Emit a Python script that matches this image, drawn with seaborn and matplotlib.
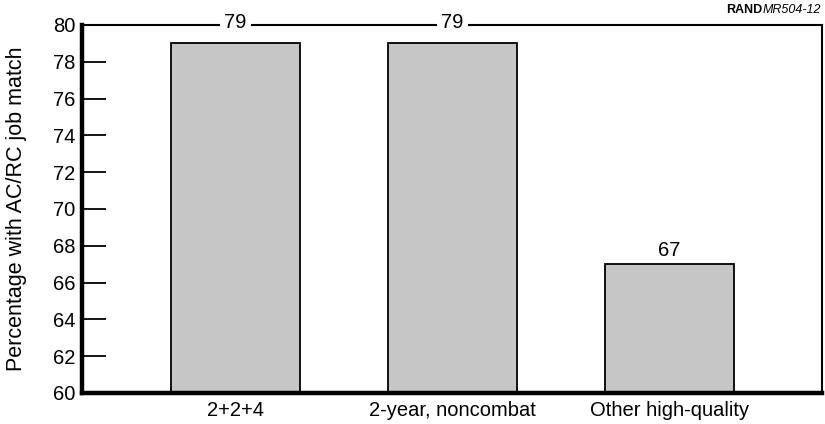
import pandas as pd
import matplotlib
matplotlib.use('Agg')
import matplotlib.pyplot as plt
import seaborn as sns

# данные с картинки
categories = ['2+2+4', '2-year, noncombat', 'Other high-quality']
values = [79, 79, 67]

sns.set_theme(style='white')
plt.rcParams['font.family'] = ['Liberation Sans', 'DejaVu Sans']
plt.rcParams['text.color'] = 'black'
plt.rcParams['axes.labelcolor'] = 'black'
plt.rcParams['xtick.color'] = 'black'
plt.rcParams['ytick.color'] = 'black'

df = pd.DataFrame({'group': categories, 'pct': values})

fig = plt.figure(figsize=(8.25, 4.24), dpi=100)
ax = fig.add_axes([82 / 825, 1 - 393 / 424, 740 / 825, 368 / 424])

sns.barplot(data=df, x='group', y='pct', ax=ax, color='#c6c6c6', saturation=1,
            width=0.595, edgecolor='black', linewidth=1.3)

ax.set_xlim(-0.707, 2.703)
ax.set_ylim(60, 80)
ax.set_yticks(range(60, 81, 2))
ax.tick_params(axis='y', direction='in', length=17, width=1.3, labelsize=14.5,
               left=True, pad=5)
ax.tick_params(axis='x', bottom=False, labelsize=14.5, pad=0)
ax.set_xlabel('')
ax.set_ylabel('Percentage with AC/RC job match', fontsize=15.5)
ax.yaxis.set_label_coords(-55 / 740, 0.5)

for side in ['left', 'bottom']:
    ax.spines[side].set_linewidth(3.2)
for side in ['top', 'right']:
    ax.spines[side].set_linewidth(1.5)
for s in ax.spines.values():
    s.set_color('black')

# подписи значений
for i, v in enumerate(values):
    if v >= 79:
        ax.text(i, 80.15, str(v), ha='center', va='center', fontsize=14.5,
                bbox=dict(facecolor='white', edgecolor='none', pad=3),
                clip_on=False, zorder=5)
    else:
        ax.text(i, v + 0.25, str(v), ha='center', va='bottom', fontsize=14.5)

t1 = fig.text(821 / 825, 1 - 10 / 424, 'MR504-12', ha='right', va='center',
              fontsize=9, fontstyle='italic')
fig.canvas.draw()
bb = t1.get_window_extent()
fig.text(bb.x0 / 825, 1 - 10 / 424, 'RAND', ha='right', va='center',
         fontsize=9, fontweight='bold')

fig.savefig('out.png', dpi=100)
